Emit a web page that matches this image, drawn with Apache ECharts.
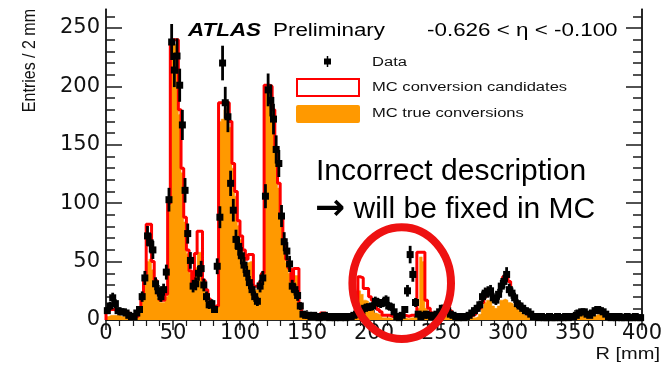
<!DOCTYPE html>
<html>
<head>
<meta charset="utf-8">
<script src="https://cdn.jsdelivr.net/npm/echarts@6/dist/echarts.min.js"></script>
<style>
  html, body { margin: 0; padding: 0; background: #ffffff; }
  #chart { width: 665px; height: 373px; }
</style>
</head>
<body>
<div id="chart"></div>
<script>
// Radial distribution of photon conversion vertices, 2 mm bins from R = 0 to 400 mm.
const binWidth = 2;
const rMin = 0;
const rMax = 400;

// MC conversion candidates (red outline), one value per 2 mm bin
const mcCandidates = [
  8, 9, 9, 8, 7, 7, 7, 6, 6, 4,            //   0 -  20
  3, 3, 8, 20, 36, 82, 82, 50, 34, 23,     //  20 -  40
  17, 17, 22, 100, 236, 240, 240, 180, 130, 88, //  40 -  60
  60, 42, 30, 57, 76, 76, 34, 26, 18, 14,  //  60 -  80
  9, 12, 186, 186, 186, 186, 170, 134, 110, 85, //  80 - 100
  72, 60, 52, 56, 56, 29, 29, 32, 40, 201, // 100 - 120
  201, 200, 180, 147, 117, 89, 69, 52, 44, 33, // 120 - 140
  44, 44, 14, 6, 4, 4, 3, 3, 3, 4,         // 140 - 160
  6, 6, 3, 3, 2, 2, 3, 2, 2, 3,            // 160 - 180
  3, 4, 5, 10, 37, 36, 27, 27, 20, 17,     // 180 - 200
  12, 9, 7, 4, 4, 4, 3, 3, 3, 4,           // 200 - 220
  3, 4, 3, 4, 4, 5, 58, 58, 58, 17,        // 220 - 240
  10, 6, 5, 5, 7, 11, 12, 12, 8, 4,        // 240 - 260
  3, 3, 2, 3, 3, 3, 4, 5, 8, 10,           // 260 - 280
  15, 20, 26, 26, 18, 17, 20, 30, 37, 37,  // 280 - 300
  33, 22, 20, 15, 13, 10, 7, 5, 4, 3,      // 300 - 320
  3, 2, 2, 2, 3, 2, 2, 2, 2, 2,            // 320 - 340
  2, 2, 3, 3, 3, 4, 6, 7, 7, 5,            // 340 - 360
  4, 5, 7, 8, 8, 6, 4, 3, 2, 2,            // 360 - 380
  2, 2, 2, 2, 3, 2, 2, 2, 2, 2             // 380 - 400
];

// MC true conversions (orange fill)
const mcTrue = [
  3, 4, 4, 4, 4, 3, 3, 3, 3, 2,
  2, 2, 6, 16, 30, 50, 52, 43, 29, 19,
  15, 15, 20, 98, 230, 236, 235, 176, 126, 84,
  57, 40, 27, 45, 58, 58, 30, 23, 16, 12,
  8, 11, 170, 172, 180, 182, 165, 130, 106, 81,
  69, 57, 49, 50, 50, 26, 26, 29, 37, 196,
  197, 196, 176, 143, 113, 86, 66, 49, 40, 30,
  38, 38, 11, 5, 2, 2, 1, 1, 1, 2,
  2, 2, 1, 1, 1, 1, 1, 1, 1, 1,
  1, 2, 3, 7, 25, 22, 17, 16, 10, 9,
  6, 5, 4, 2, 2, 2, 1, 1, 1, 2,
  1, 2, 1, 2, 2, 2, 10, 54, 50, 10,
  6, 4, 3, 3, 5, 8, 9, 8, 5, 2,
  1, 1, 1, 1, 1, 2, 2, 2, 3, 5,
  10, 15, 17, 17, 12, 10, 12, 17, 18, 17,
  15, 14, 12, 10, 8, 6, 4, 3, 2, 1,
  1, 1, 1, 1, 1, 1, 1, 1, 1, 1,
  1, 1, 1, 1, 2, 3, 4, 5, 5, 3,
  2, 3, 4, 5, 5, 4, 2, 1, 1, 1,
  1, 1, 1, 1, 1, 1, 1, 1, 1, 1
];

// Data entries per bin (black points, sqrt(N) error bars)
const dataCounts = [
  8, 12, 19, 14, 8, 7, 7, 6, 4, 3,
  3, 6, 9, 20, 36, 72, 66, 60, 31, 25,
  20, 26, 41, 103, 238, 214, 226, 201, 167, 111,
  74, 51, 29, 31, 40, 44, 30, 20, 13, 14,
  9, 46, 88, 220, 186, 174, 117, 94, 69, 63,
  55, 47, 40, 32, 26, 20, 16, 29, 36, 106,
  197, 188, 172, 146, 134, 89, 67, 59, 48, 29,
  26, 21, 12, 5, 4, 4, 3, 4, 3, 2,
  3, 4, 3, 2, 3, 2, 3, 2, 3, 2,
  3, 3, 4, 5, 6, 8, 10, 11, 11, 12,
  16, 15, 14, 15, 17, 12, 11, 7, 3, 2,
  4, 9, 25, 56, 39, 15, 5, 3, 4, 5,
  4, 3, 4, 5, 7, 10, 9, 8, 5, 4,
  3, 2, 3, 2, 3, 4, 6, 8, 10, 13,
  20, 23, 24, 25, 19, 17, 22, 29, 33, 39,
  26, 23, 19, 14, 12, 10, 8, 7, 5, 3,
  3, 2, 3, 2, 2, 3, 2, 2, 3, 2,
  2, 3, 2, 3, 3, 4, 6, 7, 7, 5,
  4, 6, 8, 9, 8, 7, 5, 3, 2, 3,
  2, 3, 2, 2, 3, 2, 2, 3, 2, 2
];

const xTickLabels = [0, 50, 100, 150, 200, 250, 300, 350, 400];
const yTickLabels = [0, 50, 100, 150, 200, 250];
const yMinorTicks = [10, 20, 30, 40, 60, 70, 80, 90, 110, 120, 130, 140, 160, 170, 180, 190, 210, 220, 230, 240, 260];
const yMax = 266;

// Histogram outline as a stepped polyline through bin edges
function stepPoints(values) {
  const pts = [[rMin, 0]];
  values.forEach((v, i) => pts.push([rMin + i * binWidth, v]));
  pts.push([rMin + values.length * binWidth, values[values.length - 1]]);
  pts.push([rMin + values.length * binWidth, 0]);
  return pts;
}

const dataPoints = dataCounts.map((n, i) => [rMin + (i + 0.5) * binWidth, n]);

const AXIS = '#1a1a1a';
const FONT = 'Liberation Sans';
const NUMFONT = 'DejaVu Sans';

function yAxisDef(position, values, len, showLabel) {
  return {
    type: 'value', min: 0, max: yMax, position: position,
    axisLine: { show: true, lineStyle: { color: AXIS, width: 1.5 } },
    axisTick: { show: true, inside: true, length: len, customValues: values, lineStyle: { color: AXIS, width: 1.5 } },
    axisLabel: showLabel
      ? { show: true, customValues: yTickLabels, fontFamily: NUMFONT, fontSize: 21, color: '#111', margin: 6 }
      : { show: false },
    splitLine: { show: false }
  };
}

function xAxisDef(position, showLabel) {
  return {
    type: 'value', min: rMin, max: rMax, interval: 50, position: position,
    axisLine: { show: true, lineStyle: { color: AXIS, width: 1.5 } },
    axisTick: { show: true, inside: true, length: 10, lineStyle: { color: AXIS, width: 1.5 } },
    minorTick: { show: true, splitNumber: 5, length: 6, lineStyle: { color: AXIS, width: 1.2 } },
    axisLabel: showLabel
      ? { show: true, fontFamily: NUMFONT, fontSize: 21, color: '#111', margin: 3,
          formatter: v => (xTickLabels.indexOf(v) >= 0 ? String(v) : '') }
      : { show: false },
    splitLine: { show: false }
  };
}

const chart = echarts.init(document.getElementById('chart'), null, { renderer: 'canvas' });

const scaleWide = 1.28;

chart.setOption({
  animation: false,
  backgroundColor: '#ffffff',
  grid: { left: 106, right: 18.5, top: 9.3, bottom: 53, containLabel: false },
  xAxis: [xAxisDef('bottom', true), xAxisDef('top', false)],
  yAxis: [
    yAxisDef('left', yTickLabels, 16, true),
    yAxisDef('left', yMinorTicks, 9, false),
    yAxisDef('right', yTickLabels, 16, false),
    yAxisDef('right', yMinorTicks, 9, false)
  ],
  series: [
    {
      name: 'MC true conversions', type: 'line', step: 'end',
      data: stepPoints(mcTrue), symbol: 'none', z: 1,
      lineStyle: { color: '#ff9900', width: 0.5 },
      areaStyle: { color: '#ff9900', opacity: 1 }
    },
    {
      name: 'MC conversion candidates', type: 'line', step: 'end',
      data: stepPoints(mcCandidates), symbol: 'none', z: 2,
      lineStyle: { color: '#ff0000', width: 3 }
    },
    {
      name: 'Data', type: 'custom', z: 3,
      data: dataPoints,
      renderItem: function (params, api) {
        const r = api.value(0), n = api.value(1), e = Math.sqrt(n);
        const top = api.coord([r, n + e]);
        const bot = api.coord([r, Math.max(n - e, 0)]);
        const c = api.coord([r, n]);
        const lft = api.coord([r - binWidth / 2, n]);
        const rgt = api.coord([r + binWidth / 2, n]);
        const st = { stroke: '#000', lineWidth: 2.8 };
        return {
          type: 'group',
          children: [
            { type: 'line', shape: { x1: top[0], y1: top[1], x2: bot[0], y2: bot[1] }, style: st },
            { type: 'line', shape: { x1: lft[0] - 1, y1: lft[1], x2: rgt[0] + 1, y2: rgt[1] }, style: st },
            { type: 'rect', shape: { x: c[0] - 3.5, y: c[1] - 3.5, width: 7, height: 7 }, style: { fill: '#000' } }
          ]
        };
      }
    }
  ],
  graphic: [
    // axis title (vertical)
    { type: 'text', x: 30, y: 9, rotation: Math.PI / 2, scaleY: 1.2, z: 10,
      style: { text: 'Entries / 2 mm', fontFamily: FONT, fontSize: 16, fill: '#111', align: 'right', verticalAlign: 'middle' } },
    { type: 'text', x: 660, y: 355, scaleX: 1.25, z: 10,
      style: { text: 'R [mm]', fontFamily: FONT, fontSize: 16, fill: '#111', align: 'right', verticalAlign: 'middle' } },
    // header labels
    { type: 'text', x: 188, y: 31, scaleX: scaleWide, z: 10,
      style: { text: 'ATLAS', fontFamily: FONT, fontSize: 17.5, fontWeight: 'bold', fontStyle: 'italic', fill: '#000', verticalAlign: 'middle' } },
    { type: 'text', x: 273, y: 31, scaleX: scaleWide, z: 10,
      style: { text: 'Preliminary', fontFamily: FONT, fontSize: 17.5, fill: '#000', verticalAlign: 'middle' } },
    { type: 'text', x: 427, y: 31, scaleX: scaleWide, z: 10,
      style: { text: '-0.626 < \u03b7 < -0.100', fontFamily: FONT, fontSize: 17.5, fill: '#000', verticalAlign: 'middle' } },
    // legend
    { type: 'rect', z: 10, shape: { x: 324, y: 58.5, width: 7, height: 6 }, style: { fill: '#000' } },
    { type: 'line', z: 10, shape: { x1: 327.5, y1: 56, x2: 327.5, y2: 67 }, style: { stroke: '#000', lineWidth: 1.5 } },
    { type: 'text', x: 372, y: 62.5, scaleX: 1.38, z: 10,
      style: { text: 'Data', fontFamily: FONT, fontSize: 12, fill: '#111', verticalAlign: 'middle' } },
    { type: 'rect', z: 10, shape: { x: 297, y: 79, width: 62, height: 17 }, style: { fill: '#ffffff', stroke: '#ff0000', lineWidth: 2 } },
    { type: 'text', x: 372, y: 88, scaleX: 1.38, z: 10,
      style: { text: 'MC conversion candidates', fontFamily: FONT, fontSize: 12, fill: '#111', verticalAlign: 'middle' } },
    { type: 'rect', z: 10, shape: { x: 296, y: 105, width: 64, height: 18, r: 2 }, style: { fill: '#ff9900' } },
    { type: 'text', x: 372, y: 114, scaleX: 1.38, z: 10,
      style: { text: 'MC true conversions', fontFamily: FONT, fontSize: 12, fill: '#111', verticalAlign: 'middle' } },
    // note about the 220-240 mm region
    { type: 'text', x: 316, y: 172, z: 10,
      style: { text: 'Incorrect description', fontFamily: FONT, fontSize: 30, fill: '#000', verticalAlign: 'middle' } },
    { type: 'text', x: 315, y: 210, z: 10,
      style: {
        text: '{a|\u2192}{b| will be fixed in MC}', verticalAlign: 'middle', fill: '#000',
        rich: {
          a: { fontFamily: 'DejaVu Sans', fontWeight: 'bold', fontSize: 36, fill: '#000' },
          b: { fontFamily: FONT, fontSize: 30, fill: '#000' }
        }
      } },
    { type: 'ellipse', z: 20, shape: { cx: 401.7, cy: 283.2, rx: 49.3, ry: 55.9 },
      style: { fill: 'none', stroke: '#ee1111', lineWidth: 8 } }
  ]
});
</script>
</body>
</html>
